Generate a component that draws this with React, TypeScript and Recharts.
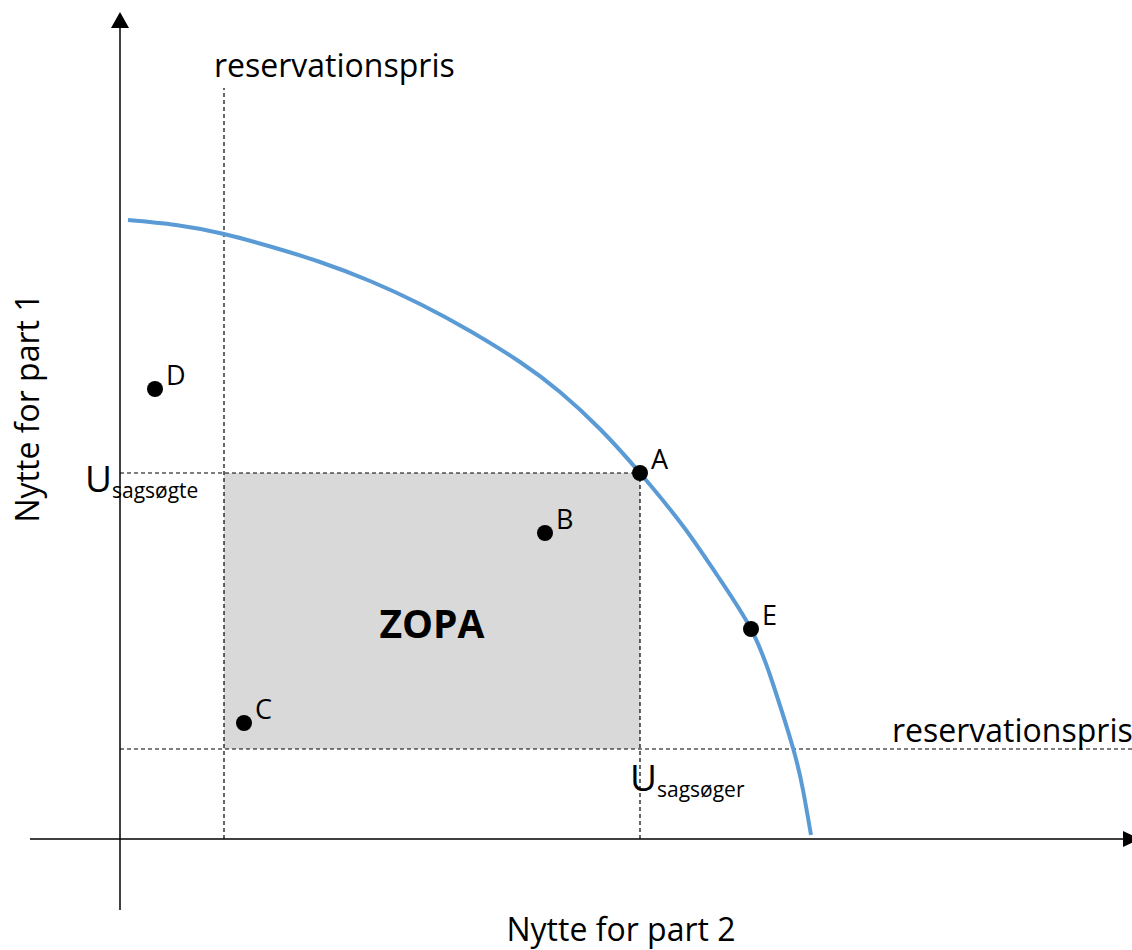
import React from 'react';
import {
  ComposedChart,
  XAxis,
  YAxis,
  Line,
  Scatter,
  ReferenceLine,
  ReferenceArea,
  ReferenceDot,
} from 'recharts';

// Utility units, origin where the two axes cross
const frontier = [
  { x: 8, y: 619 }, { x: 56, y: 614 }, { x: 104, y: 605 }, { x: 152, y: 592 },
  { x: 200, y: 577 }, { x: 250, y: 558 }, { x: 300, y: 535 }, { x: 350, y: 508 },
  { x: 400, y: 477 }, { x: 440, y: 447 }, { x: 480, y: 410 }, { x: 520, y: 366 },
  { x: 563, y: 313 }, { x: 597, y: 264 }, { x: 631, y: 210 }, { x: 653, y: 155 },
  { x: 673, y: 91 }, { x: 683, y: 49 }, { x: 691, y: 4 },
];

const outcomes = [
  { name: 'A', x: 520, y: 366 },
  { name: 'B', x: 425, y: 306 },
  { name: 'C', x: 124, y: 116 },
  { name: 'D', x: 35, y: 450 },
  { name: 'E', x: 631, y: 210 },
];

const reservationPart2 = 104; // x
const reservationPart1 = 90; // y
const uSagsoger = 520; // x
const uSagsogte = 366; // y

const xDomain: [number, number] = [-120, 1012];
const yDomain: [number, number] = [-111, 839];
const axisExtent = { xMin: -90, xMax: 1003, yMin: -71, yMax: 811 };
const topOfReservationLine = 751;

const FONT = '"Open Sans", sans-serif';

const dash = '4 3';

const textAnn = [
  { key: 'r1', x: 94, y: 762, text: 'reservationspris', size: 32, anchor: 'start' },
  { key: 'r2', x: 772, y: 97, text: 'reservationspris', size: 32, anchor: 'start' },
  { key: 'zopa', x: 312, y: 201, text: 'ZOPA', size: 39, anchor: 'middle', bold: true },
  { key: 'xt', x: 501, y: -102, text: 'Nytte for part 2', size: 32, anchor: 'middle' },
];

const subAnn = [
  { key: 'us1', x: -35, y: 347, main: 'U', sub: 'sagsøgte' },
  { key: 'us2', x: 510, y: 48, main: 'U', sub: 'sagsøger' },
];

const yTitle = { x: -81, y: 431, text: 'Nytte for part 1' };

const DotShape = (props: any) => {
  const { cx, cy, payload } = props;
  return (
    <g>
      <circle cx={cx} cy={cy} r={8} fill="#000" />
      <text x={cx + 11} y={cy - 4} fontSize={27} fontFamily={FONT} fill="#000">
        {payload.name}
      </text>
    </g>
  );
};

export default function App() {
  return (
    <div style={{ position: 'absolute', left: 0, top: 0, background: '#fff' }}>
      <ComposedChart width={1132} height={950} margin={{ top: 0, right: 0, bottom: 0, left: 0 }}>
        <XAxis type="number" dataKey="x" domain={xDomain} hide allowDataOverflow />
        <YAxis type="number" dataKey="y" domain={yDomain} hide allowDataOverflow />

        <ReferenceArea
          x1={reservationPart2}
          x2={uSagsoger}
          y1={reservationPart1}
          y2={uSagsogte}
          fill="#d9d9d9"
          fillOpacity={1}
          stroke="none"
        />

        <ReferenceLine
          segment={[{ x: reservationPart2, y: 0 }, { x: reservationPart2, y: topOfReservationLine }]}
          stroke="#000"
          strokeDasharray={dash}
          strokeWidth={1.2}
        />
        <ReferenceLine
          segment={[{ x: 0, y: reservationPart1 }, { x: xDomain[1], y: reservationPart1 }]}
          stroke="#000"
          strokeDasharray={dash}
          strokeWidth={1.2}
        />
        <ReferenceLine
          segment={[{ x: 0, y: uSagsogte }, { x: uSagsoger, y: uSagsogte }]}
          stroke="#000"
          strokeDasharray={dash}
          strokeWidth={1.2}
        />
        <ReferenceLine
          segment={[{ x: uSagsoger, y: 0 }, { x: uSagsoger, y: uSagsogte }]}
          stroke="#000"
          strokeDasharray={dash}
          strokeWidth={1.2}
        />

        <ReferenceLine
          segment={[{ x: 0, y: axisExtent.yMin }, { x: 0, y: axisExtent.yMax }]}
          stroke="#000"
          strokeWidth={1.5}
        />
        <ReferenceLine
          segment={[{ x: axisExtent.xMin, y: 0 }, { x: axisExtent.xMax, y: 0 }]}
          stroke="#000"
          strokeWidth={1.5}
        />
        <ReferenceDot
          x={0}
          y={axisExtent.yMax}
          r={0}
          ifOverflow="visible"
          shape={(p: any) => (
            <polygon
              points={`${p.cx - 9},${p.cy} ${p.cx + 9},${p.cy} ${p.cx},${p.cy - 16}`}
              fill="#000"
            />
          )}
        />
        <ReferenceDot
          x={axisExtent.xMax}
          y={0}
          r={0}
          ifOverflow="visible"
          shape={(p: any) => (
            <polygon
              points={`${p.cx},${p.cy - 8} ${p.cx},${p.cy + 8} ${p.cx + 17},${p.cy}`}
              fill="#000"
            />
          )}
        />

        <Line
          data={frontier}
          dataKey="y"
          type="natural"
          stroke="#5b9bd5"
          strokeWidth={4}
          dot={false}
          activeDot={false}
          isAnimationActive={false}
        />

        <Scatter data={outcomes} dataKey="y" shape={DotShape} isAnimationActive={false} />

        {textAnn.map((a) => (
          <ReferenceDot
            key={a.key}
            x={a.x}
            y={a.y}
            r={0}
            ifOverflow="visible"
            shape={(p: any) => (
              <text
                x={p.cx}
                y={p.cy}
                fontSize={a.size}
                fontFamily={FONT}
                fontWeight={a.bold ? 700 : 400}
                textAnchor={a.anchor as any}
                fill="#000"
              >
                {a.text}
              </text>
            )}
          />
        ))}

        {subAnn.map((a) => (
          <ReferenceDot
            key={a.key}
            x={a.x}
            y={a.y}
            r={0}
            ifOverflow="visible"
            shape={(p: any) => (
              <text x={p.cx} y={p.cy} fontFamily={FONT} fill="#000">
                <tspan fontSize={37}>{a.main}</tspan>
                <tspan fontSize={21} dy={6}>{a.sub}</tspan>
              </text>
            )}
          />
        ))}

        <ReferenceDot
          x={yTitle.x}
          y={yTitle.y}
          r={0}
          ifOverflow="visible"
          shape={(p: any) => (
            <text
              x={p.cx}
              y={p.cy}
              fontSize={32}
              fontFamily={FONT}
              textAnchor="middle"
              transform={`rotate(-90 ${p.cx} ${p.cy})`}
              fill="#000"
            >
              {yTitle.text}
            </text>
          )}
        />
      </ComposedChart>
    </div>
  );
}
